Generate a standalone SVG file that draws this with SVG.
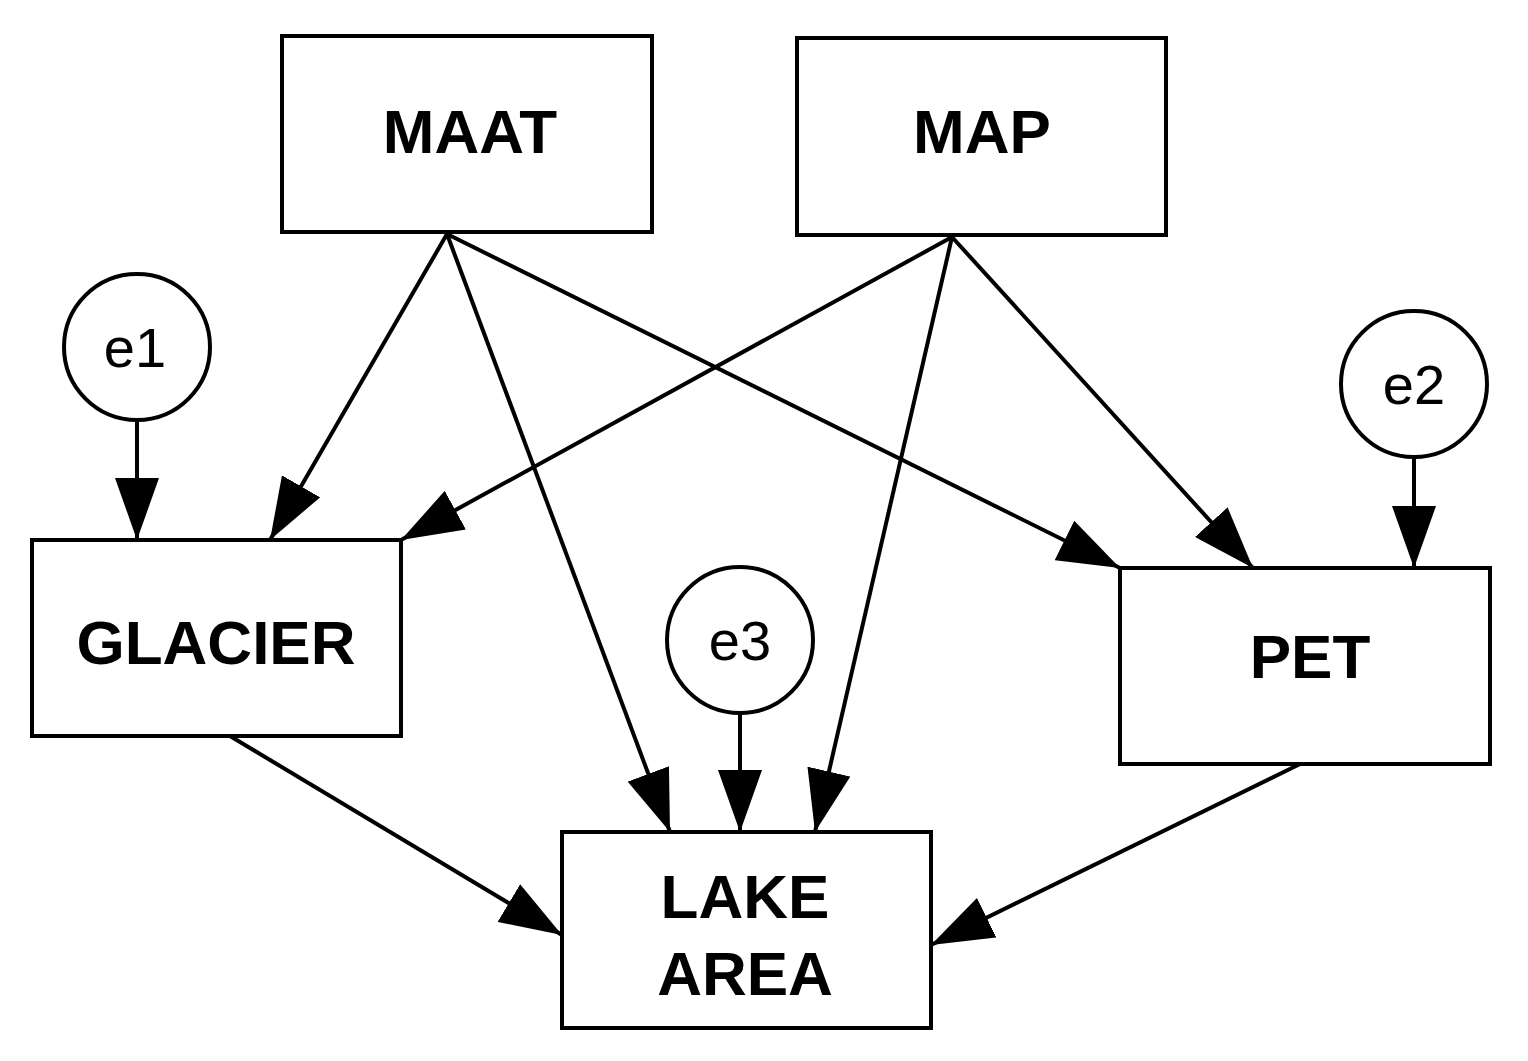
<svg xmlns="http://www.w3.org/2000/svg" width="1528" height="1061" viewBox="0 0 1528 1061">
<style>
.b{fill:#fff;stroke:#000;stroke-width:4}
.t{font-family:"Liberation Sans",Arial,sans-serif;font-weight:bold;font-size:62px;text-anchor:middle}
.c{font-family:"Liberation Sans",Arial,sans-serif;font-size:56px;text-anchor:middle}
.e{stroke:#000;stroke-width:4;fill:none;marker-end:url(#a)}
</style>
<defs><marker id="a" markerUnits="userSpaceOnUse" markerWidth="64" markerHeight="44" refX="62" refY="22" orient="auto"><path d="M0,0 L62,22 L0,44 Z" fill="#000"/></marker></defs>
<rect width="1528" height="1061" fill="#fff"/>
<g id="connectors">
<line class="e" x1="137" y1="420" x2="137" y2="540"/>
<line class="e" x1="447" y1="234" x2="270" y2="540"/>
<line class="e" x1="447" y1="234" x2="670" y2="832"/>
<line class="e" x1="447" y1="234" x2="1120" y2="568"/>
<line class="e" x1="952" y1="237" x2="401" y2="540"/>
<line class="e" x1="952" y1="237" x2="815" y2="832"/>
<line class="e" x1="952" y1="237" x2="1253" y2="568"/>
<line class="e" x1="1414" y1="457" x2="1414" y2="568"/>
<line class="e" x1="740" y1="713" x2="740" y2="832"/>
<line class="e" x1="230" y1="736" x2="562" y2="935"/>
<line class="e" x1="1300" y1="764" x2="931" y2="945"/>
</g>
<g id="MAAT"><rect class="b" x="282" y="36" width="370" height="196"/><text class="t" x="470" y="153">MAAT</text></g>
<g id="MAP"><rect class="b" x="797" y="38" width="369" height="197"/><text class="t" x="982" y="153">MAP</text></g>
<g id="GLACIER"><rect class="b" x="32" y="540" width="369" height="196"/><text class="t" x="216" y="664">GLACIER</text></g>
<g id="PET"><rect class="b" x="1120" y="568" width="370" height="196"/><text class="t" x="1310" y="678">PET</text></g>
<g id="LAKE_AREA"><rect class="b" x="562" y="832" width="369" height="196"/><text class="t" x="745" y="918">LAKE</text><text class="t" x="745" y="995">AREA</text></g>
<g id="e1"><circle class="b" cx="137" cy="347" r="73"/><text class="c" x="135" y="367">e1</text></g>
<g id="e2"><circle class="b" cx="1414" cy="384" r="73"/><text class="c" x="1414" y="404">e2</text></g>
<g id="e3"><circle class="b" cx="740" cy="640" r="73"/><text class="c" x="740" y="660">e3</text></g>
</svg>
